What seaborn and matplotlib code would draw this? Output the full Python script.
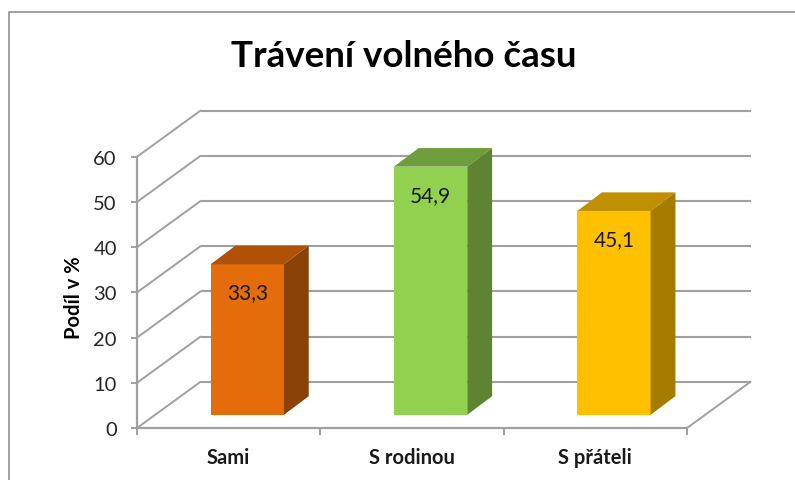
import matplotlib
matplotlib.use("Agg")
import matplotlib.pyplot as plt
from matplotlib.lines import Line2D
import numpy as np
import pandas as pd
import seaborn as sns

categories = ["Sami", "S rodinou", "S přáteli"]
values = [33.3, 54.9, 45.1]
value_labels = ["33,3", "54,9", "45,1"]
front_colors = ["#E46C0A", "#92D050", "#FFC000"]
top_colors = ["#AD5207", "#6F9C3D", "#C09000"]
side_colors = ["#8A4206", "#5E8432", "#A67C00"]
y_ticks = [0, 10, 20, 30, 40, 50, 60]

GRID = "#A0A0A0"
W, H = 795, 481

sns.set_style("white")
plt.rcParams["font.family"] = ["Lato", "DejaVu Sans"]

fig = plt.figure(figsize=(W / 100, H / 100), dpi=100)
ax = fig.add_axes([137 / W, 1 - 429 / H, 550 / W, 271.2 / H])

df = pd.DataFrame({"cat": categories, "val": values})
sns.barplot(data=df, x="cat", y="val", hue="cat", palette=front_colors, saturation=1,
            width=0.4, legend=False, ax=ax, zorder=5, linewidth=0)
ax.set_xlim(-0.5, 2.5)
ax.set_ylim(0, 60)

# depth of the fake 3d box, in data units
wall_dx, wall_dy = 63.5 / 183.3, 46.2 / 4.52
lift_dx, lift_dy = 18.6 / 183.3, 13.2 / 4.52
bar_dx, bar_dy = 24.8 / 183.3, 18.6 / 4.52

# back wall and left wall
for v in y_ticks:
    ax.plot([-0.5 + wall_dx, 2.5 + wall_dx], [v + wall_dy, v + wall_dy], color=GRID, lw=1.5,
            clip_on=False, zorder=1, solid_capstyle="butt")
    ax.plot([-0.5, -0.5 + wall_dx], [v, v + wall_dy], color=GRID, lw=1.4,
            clip_on=False, zorder=1)
ax.plot([2.5, 2.5 + wall_dx], [0, wall_dy], color=GRID, lw=1.4, clip_on=False, zorder=1)

for i, bar in enumerate(ax.patches):
    bar.set_x(bar.get_x() + lift_dx)
    bar.set_y(lift_dy)
    bar.set_clip_on(False)
    x0, x1 = bar.get_x(), bar.get_x() + bar.get_width()
    y0, y1 = lift_dy, lift_dy + values[i]
    ax.fill([x0, x1, x1 + bar_dx, x0 + bar_dx], [y1, y1, y1 + bar_dy, y1 + bar_dy],
            color=top_colors[i], lw=0, clip_on=False, zorder=5)
    ax.fill([x1, x1 + bar_dx, x1 + bar_dx, x1], [y0, y0 + bar_dy, y1 + bar_dy, y1],
            color=side_colors[i], lw=0, clip_on=False, zorder=5)
    ax.text((x0 + x1) / 2, y1 - 6.2, value_labels[i], ha="center", va="center",
            fontsize=15, color="#1A1A1A", zorder=6)

sns.despine(ax=ax)
for s in ["left", "bottom"]:
    ax.spines[s].set_color(GRID)
    ax.spines[s].set_linewidth(1.6)

ax.set_yticks(y_ticks)
ax.tick_params(axis="y", length=4.5, width=1.4, color=GRID, labelsize=14.5, pad=10,
               labelcolor="#262626", left=True)
ax.set_xticks(np.arange(len(categories)))
ax.set_xticklabels(categories, fontweight="bold", fontsize=14.5, color="#1A1A1A")
ax.tick_params(axis="x", length=0, pad=14)
ax.set_xticks([-0.5, 0.5, 1.5, 2.5], minor=True)
ax.tick_params(axis="x", which="minor", length=5, width=1.4, color=GRID, bottom=True)
ax.set_xlabel("")
ax.set_ylabel("")

fig.text(74 / W, 1 - 298 / H, "Podíl v %", rotation=90, ha="center", va="center",
         fontweight="bold", fontsize=14.5, color="black")
fig.text(404 / W, 1 - 57 / H, "Trávení volného času", ha="center", va="center",
         fontweight="bold", fontsize=26.5, color="black")

# chart frame, runs off the right and bottom of the picture
fig.add_artist(Line2D([9 / W, 9 / W, 1], [0, 1 - 12.5 / H, 1 - 12.5 / H], color="#A0A0A0", lw=1.4))

fig.savefig("out.png", dpi=100)
